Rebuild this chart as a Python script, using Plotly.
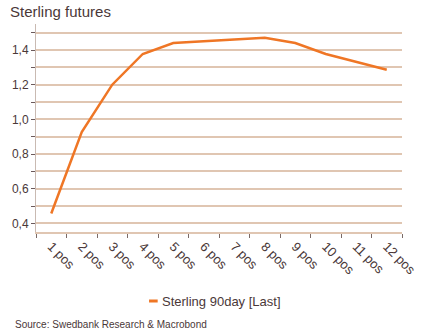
import plotly.graph_objects as go

categories = ["1 pos", "2 pos", "3 pos", "4 pos", "5 pos", "6 pos",
              "7 pos", "8 pos", "9 pos", "10 pos", "11 pos", "12 pos"]
sterling_90day = [0.457, 0.927, 1.20, 1.377, 1.44, 1.448,
                  1.46, 1.47, 1.44, 1.377, 1.333, 1.286]
series_name = "Sterling 90day [Last]"
title_text = "Sterling futures"
source_text = "Source: Swedbank Research & Macrobond"

W, H = 428, 336
L, R, T, B = 36, 10, 24, 104
pw, ph = W - L - R, H - T - B

def px_x(x):
    return (x - L) / pw

def px_y(y):
    return (H - B - y) / ph

FONT = "Liberation Sans, Arial, sans-serif"
TXT = "#4a3838"
GRID = "#e0c6b2"
LINE = "#ef7625"

fig = go.Figure()
fig.add_trace(go.Scatter(
    x=categories, y=sterling_90day, mode="lines", name=series_name,
    line=dict(color=LINE, width=2.5), showlegend=False,
))

fig.update_layout(
    width=W, height=H,
    margin=dict(l=L, r=R, t=T, b=B),
    paper_bgcolor="white", plot_bgcolor="white",
    font=dict(family=FONT, color=TXT, size=12),
    title=dict(text=title_text, x=10 / W, xanchor="left", xref="container",
               y=1 - 12 / H, yanchor="middle", yref="container",
               font=dict(size=15, color=TXT, family=FONT)),
    xaxis=dict(
        type="category", tickson="boundaries", ticks="outside", ticklen=4,
        tickcolor="#7a6a66", tickwidth=1, tickangle=45,
        showgrid=False, showline=True, linecolor=GRID, linewidth=1.5,
        tickfont=dict(size=13, color=TXT), range=[-0.5, 11.5],
    ),
    yaxis=dict(
        range=[0.35, 1.55], tick0=0.4, dtick=0.2, tickformat=".1f",
        ticks="outside", ticklen=4, tickcolor="#6b5a5a", tickwidth=1,
        showgrid=True, gridcolor=GRID, gridwidth=1.5,
        showline=True, linecolor="#c9bab2", linewidth=1,
        zeroline=False,
        minor=dict(dtick=0.1, tick0=0.4, showgrid=True, gridcolor=GRID,
                   gridwidth=1.5, ticks="outside", ticklen=4,
                   tickcolor="#6b5a5a"),
        tickfont=dict(size=12, color=TXT),
    ),
    separators=",.",
    shapes=[dict(type="line", xref="paper", yref="paper",
                 x0=px_x(154), x1=px_x(163), y0=px_y(301), y1=px_y(301),
                 line=dict(color=LINE, width=3))],
    annotations=[
        dict(text=series_name, xref="paper", yref="paper",
             x=px_x(165), y=px_y(301), xanchor="left", yanchor="middle",
             showarrow=False, font=dict(size=13, color=TXT, family=FONT)),
        dict(text=source_text, xref="paper", yref="paper",
             x=px_x(12), y=px_y(324), xanchor="left", yanchor="middle",
             showarrow=False, font=dict(size=10, color=TXT, family=FONT)),
    ],
)

fig.write_html("out.html")
